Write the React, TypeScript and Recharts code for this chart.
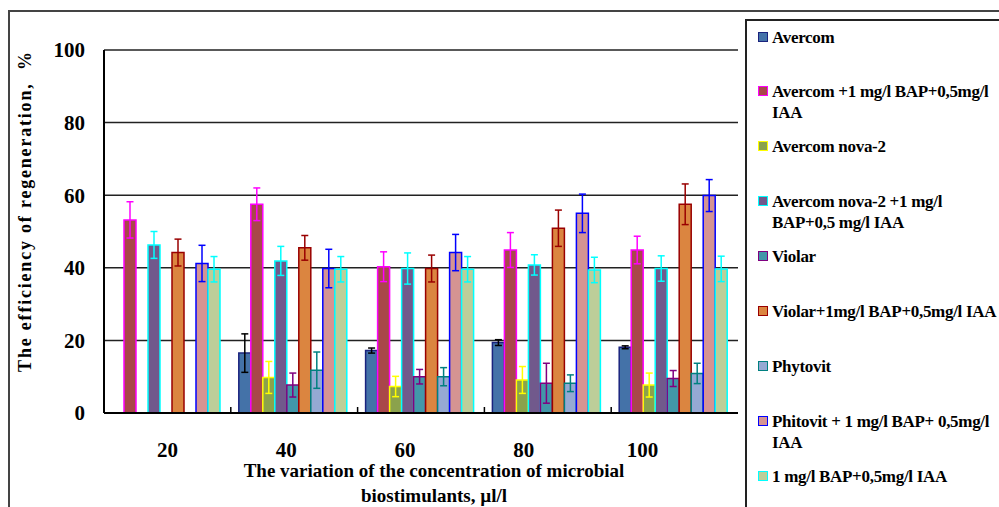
import React from 'react';
import { BarChart, Bar, XAxis, YAxis, CartesianGrid, ErrorBar, Legend, Label } from 'recharts';

// concentrations, µl/l
const categories = ['20', '40', '60', '80', '100'];

// efficiency of regeneration, % (null = not tested)
const avercom = [null, 16.5, 17.2, 19.4, 18.1];
const avercomErr = [null, 5.3, 0.7, 0.8, 0.4];
const avercomBap = [53.2, 57.5, 40.3, 44.9, 44.9];
const avercomBapErr = [5, 4.5, 4.1, 4.8, 3.8];
const nova = [null, 9.8, 7.3, 9.1, 7.7];
const novaErr = [null, 4.4, 2.8, 3.7, 3.3];
const novaBap = [46.3, 41.9, 39.8, 40.8, 39.8];
const novaBapErr = [3.7, 4, 4.3, 2.8, 3.5];
const violar = [null, 7.7, 10, 8.2, 9.5];
const violarErr = [null, 3.3, 2, 5.5, 2.2];
const violarBap = [44.2, 45.5, 39.8, 50.9, 57.5];
const violarBapErr = [3.7, 3.4, 3.7, 5, 5.6];
const phytovit = [null, 11.8, 10, 8.2, 10.9];
const phytovitErr = [null, 5, 2.5, 2.3, 2.8];
const phytovitBap = [41.2, 39.8, 44.2, 55, 59.9];
const phytovitBapErr = [5, 5.3, 5, 5.3, 4.4];
const bapIaa = [39.6, 39.6, 39.6, 39.4, 39.7];
const bapIaaErr = [3.5, 3.5, 3.5, 3.5, 3.5];

const yTicks = [0, 20, 40, 60, 80, 100];

const legendLines = [
  ['Avercom'],
  ['Avercom +1 mg/l BAP+0,5mg/l', 'IAA'],
  ['Avercom nova-2'],
  ['Avercom nova-2 +1 mg/l', 'BAP+0,5 mg/l IAA'],
  ['Violar'],
  ['Violar+1mg/l BAP+0,5mg/l IAA'],
  ['Phytovit'],
  ['Phitovit + 1 mg/l BAP+ 0,5mg/l', 'IAA'],
  ['1 mg/l BAP+0,5mg/l IAA'],
];

const seriesValues = [avercom, avercomBap, nova, novaBap, violar, violarBap, phytovit, phytovitBap, bapIaa];
const seriesErrors = [avercomErr, avercomBapErr, novaErr, novaBapErr, violarErr, violarBapErr, phytovitErr, phytovitBapErr, bapIaaErr];

const fills = ['#4472A8', '#A9474A', '#8BA24C', '#71598C', '#4297A9', '#DB8540', '#95A9D3', '#D59492', '#BDCE99'];
const strokes = ['#1A237E', '#FF00FF', '#FFFF00', '#00FFFF', '#800080', '#990000', '#008080', '#0000FF', '#00FFFF'];
const errColors = ['#000000', '#FF00FF', '#FFFF00', '#00FFFF', '#800080', '#990000', '#008080', '#0000FF', '#00FFFF'];

const data = categories.map((c, i) => {
  const row: Record<string, string | number | null> = { name: c };
  seriesValues.forEach((vals, s) => {
    row['s' + s] = vals[i];
    row['e' + s] = seriesErrors[s][i];
  });
  return row;
});

const serif = '"Liberation Serif", "Times New Roman", serif';

const XTick = (props: any) => {
  const { x, y, payload, index, width, visibleTicksCount } = props;
  const band = width && visibleTicksCount ? width / visibleTicksCount : 126.8;
  // labels in the original drift slightly left
  const shift = -8 * index;
  return (
    <g>
      {index > 0 && (
        <line x1={x - band / 2} x2={x - band / 2} y1={y - 8} y2={y - 14} stroke="#000" strokeWidth={1.5} />
      )}
      <text x={x + shift} y={y + 36} textAnchor="middle" fontFamily={serif} fontWeight={700} fontSize={21} fill="#000">
        {payload.value}
      </text>
    </g>
  );
};

const LegendBox = () => (
  <div
    style={{
      position: 'relative',
      width: 260,
      height: 500,
      boxSizing: 'border-box',
      border: '2px solid #222',
      background: '#fff',
      fontFamily: serif,
      fontWeight: 700,
      fontSize: 17,
      letterSpacing: -0.3,
      color: '#000',
    }}
  >
    {legendLines.map((lines, s) => (
      <div key={s} style={{ position: 'absolute', left: 11, top: 5.5 + s * 54.9, display: 'flex', alignItems: 'flex-start' }}>
        <span
          style={{
            display: 'inline-block',
            flex: 'none',
            width: 8,
            height: 8,
            marginTop: 5,
            marginRight: 4,
            background: fills[s],
            border: `1.5px solid ${strokes[s]}`,
          }}
        />
        <div style={{ lineHeight: '21px', whiteSpace: 'nowrap' }}>
          {lines.map((l) => (
            <div key={l}>{l}</div>
          ))}
        </div>
      </div>
    ))}
  </div>
);

export default function App() {
  return (
    <div style={{ position: 'absolute', left: 0, top: 0, width: 999, height: 507, overflow: 'hidden', background: '#fff' }}>
      <div
        style={{
          position: 'absolute',
          left: 8,
          top: 10,
          width: 1000,
          height: 510,
          borderLeft: '2px solid #444',
          borderTop: '2px solid #444',
        }}
      />
      <BarChart
        width={999}
        height={507}
        data={data}
        margin={{ top: 50, right: 261, bottom: 64, left: 44 }}
        barCategoryGap={8}
        barGap={0}
      >
        <CartesianGrid vertical={false} stroke="#222" strokeWidth={1.5} />
        <XAxis
          dataKey="name"
          height={30}
          tickLine={false}
          axisLine={{ stroke: '#000', strokeWidth: 2 }}
          tick={<XTick />}
          interval={0}
        >
          <Label
            content={() => (
              <g fontFamily={serif} fontWeight={700} fontSize={19} fill="#000">
                <text x={434} y={477} textAnchor="middle">The variation of the concentration of microbial</text>
                <text x={434} y={502} textAnchor="middle">biostimulants, µl/l</text>
              </g>
            )}
          />
        </XAxis>
        <YAxis
          domain={[0, 100]}
          ticks={yTicks}
          interval={0}
          width={60}
          tickLine={false}
          tickMargin={13}
          axisLine={{ stroke: '#000', strokeWidth: 2 }}
          tick={{ fontFamily: serif, fontWeight: 700, fontSize: 21, fill: '#000' }}
        >
          <Label
            content={() => (
              <text
                transform="translate(31,211) rotate(-90)"
                textAnchor="middle"
                fontFamily={serif}
                fontWeight={700}
                fontSize={18}
                letterSpacing={1.8}
                fill="#000"
              >
                {'The efficiency of regeneration,\u00a0\u00a0%'}
              </text>
            )}
          />
        </YAxis>
        <YAxis yAxisId="right" orientation="right" width={0} tick={false} tickLine={false} axisLine={{ stroke: '#000', strokeWidth: 1.5 }} />
        {seriesValues.map((_, s) => (
          <Bar
            key={s}
            dataKey={'s' + s}
            name={legendLines[s].join(' ')}
            fill={fills[s]}
            stroke={strokes[s]}
            strokeWidth={1.5}
            isAnimationActive={false}
          >
            <ErrorBar dataKey={'e' + s} direction="y" width={3.5} stroke={errColors[s]} strokeWidth={1.5} />
          </Bar>
        ))}
        <Legend
          layout="vertical"
          align="center"
          verticalAlign="middle"
          content={<LegendBox />}
          wrapperStyle={{ left: 745, top: 19, width: 260, height: 500 }}
        />
      </BarChart>
    </div>
  );
}
